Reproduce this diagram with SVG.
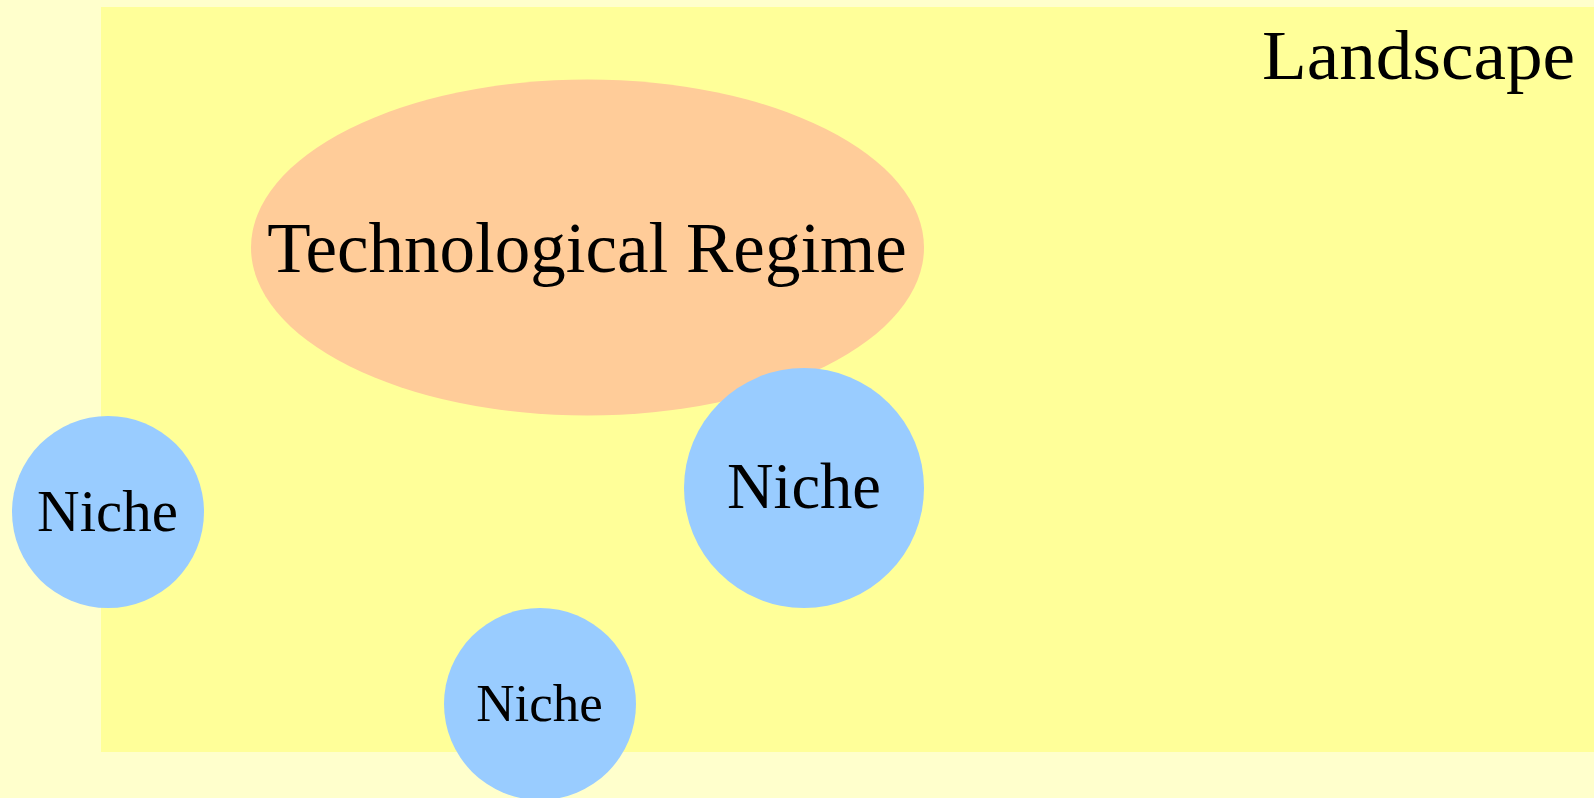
<svg xmlns="http://www.w3.org/2000/svg" width="1594" height="798" viewBox="0 0 1594 798">
<style>
.lbl{font-family:"Liberation Serif","Times New Roman",serif;fill:#000;text-anchor:middle}
.niche{fill:#99CCFF}
</style>
<rect x="0" y="0" width="1594" height="798" fill="#FFFFCC"/>
<g id="landscape">
<rect x="101" y="7" width="1493" height="745" fill="#FFFF99"/>
<text class="lbl" x="1418.5" y="79" font-size="70" textLength="313" lengthAdjust="spacingAndGlyphs">Landscape</text>
</g>
<g id="regime">
<ellipse cx="587.5" cy="247.5" rx="336.5" ry="168" fill="#FFCC99"/>
<text class="lbl" x="587" y="272" font-size="71">Technological Regime</text>
</g>
<g id="connectors"></g>
<g id="niche-left">
<circle class="niche" cx="108" cy="512" r="96"/>
<text class="lbl" x="107.5" y="531" font-size="59">Niche</text>
</g>
<g id="niche-right">
<circle class="niche" cx="804" cy="488" r="120"/>
<text class="lbl" x="804" y="508" font-size="64.5">Niche</text>
</g>
<g id="niche-bottom">
<circle class="niche" cx="540" cy="704" r="96"/>
<text class="lbl" x="539.5" y="721" font-size="53">Niche</text>
</g>
</svg>
